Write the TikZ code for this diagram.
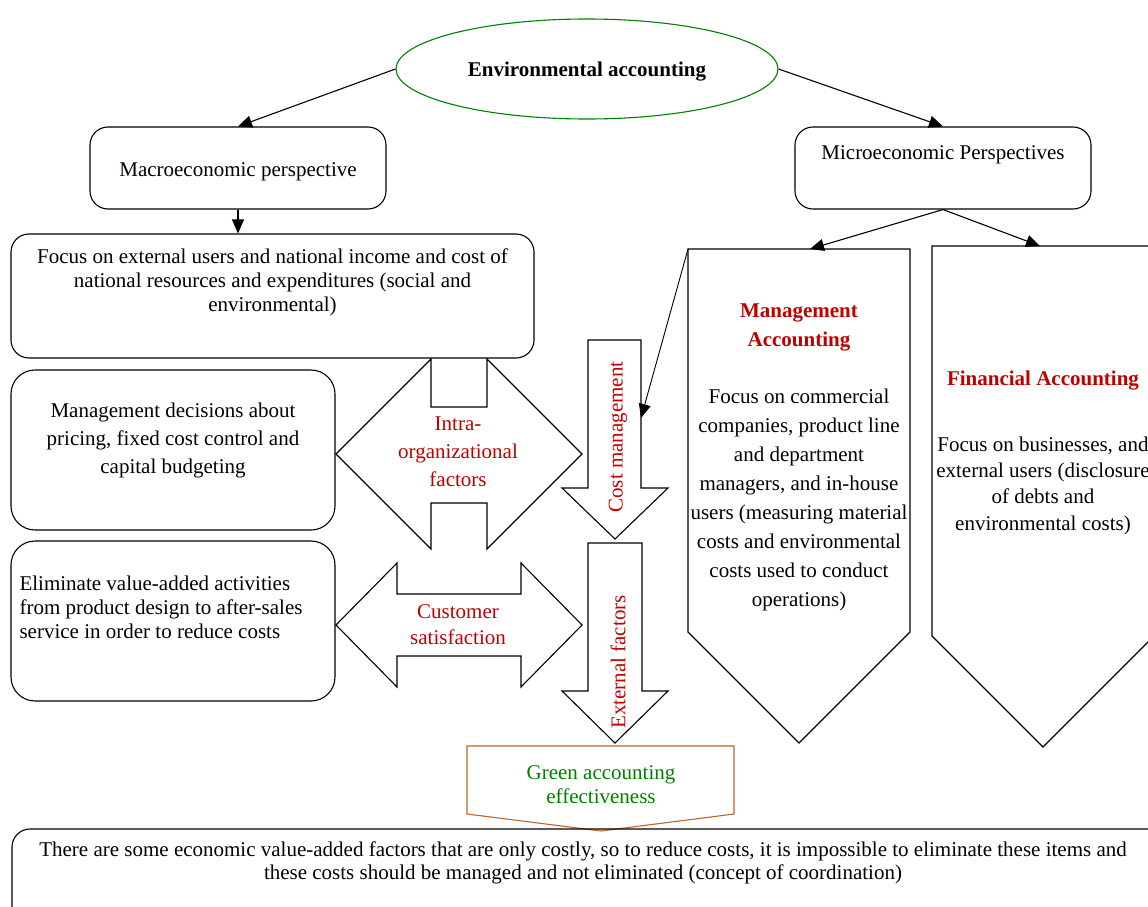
\documentclass[tikz,border=0pt]{standalone}
\usepackage{fontspec}
\setmainfont{Liberation Serif}
\usetikzlibrary{shapes.geometric,arrows.meta}
\definecolor{dred}{RGB}{192,0,0}
\definecolor{dgreen}{RGB}{0,128,0}
\definecolor{brownor}{RGB}{190,100,40}
\begin{document}
\begin{tikzpicture}[x=1pt,y=-1pt,
  line width=1.1pt,
  txt/.style={font=\fontsize{21}{24}\selectfont, align=center, inner sep=0pt},
  box/.style={draw, rounded corners=18pt, inner sep=0pt},
  shp/.style={draw, line join=miter},
  arr/.style={-{Triangle[length=14pt,width=12pt]}},
  redt/.style={text=dred},
]
\useasboundingbox (0,0) rectangle (1148,907);
\clip (0,0) rectangle (1148,907);

% top ellipse
\node[ellipse, draw=dgreen, minimum width=382pt, minimum height=100pt, inner sep=0pt] (env) at (587,69) {};
\node[txt, font=\fontsize{21}{24}\selectfont\bfseries] (envt) at (587,72) {Environmental accounting};

% perspectives
\node[box, minimum width=296pt, minimum height=82pt] (macro) at (238,168) {};
\node[txt] (macrot) at (238,172) {Macroeconomic perspective};
\node[box, minimum width=296pt, minimum height=82pt] (micro) at (943,168) {};
\node[txt] (microt) at (943,155) {Microeconomic Perspectives};

\draw[arr] (env.west) -- (macro.north);
\draw[arr] (env.east) -- (micro.north);

% left column boxes
\node[box, minimum width=523pt, minimum height=124pt] (focus) at (272.5,296) {};
\node[txt] (focust) at (272.5,282) {Focus on external users and national income and cost of\\national resources and expenditures (social and\\environmental)};
\draw[arr] (macro.south) -- (macro.south |- focus.north);

\node[box, rounded corners=24pt, minimum width=324pt, minimum height=160pt] (mgmt) at (173,450) {};
\node[txt, font=\fontsize{21}{28}\selectfont] (mgmtt) at (173,440) {Management decisions about\\pricing, fixed cost control and\\capital budgeting};

\node[box, rounded corners=24pt, minimum width=324pt, minimum height=160pt] (elim) at (173,621) {};
\node[txt, align=left, anchor=west] (elimt) at (19,607) {Eliminate value-added activities\\from product design to after-sales\\service in order to reduce costs};

% four-way arrow (intra-organizational)
\draw[shp, fill=white] (431,359) -- (336,454) -- (431,549) -- (431,503) -- (487,503) -- (487,549)
  -- (582,454) -- (487,359) -- (487,407) -- (431,407) -- cycle;
\node[txt, redt, font=\fontsize{21}{28}\selectfont] (intra) at (458,452) {Intra-\\organizational\\factors};

% customer satisfaction double arrow
\draw[shp, fill=white] (336,625) -- (397,563) -- (397,594) -- (521,594) -- (521,563) -- (582,625)
  -- (521,687) -- (521,656) -- (397,656) -- (397,687) -- cycle;
\node[txt, redt, font=\fontsize{21}{26}\selectfont] (cust) at (458,625) {Customer\\satisfaction};

% cost management arrow
\draw[shp, fill=white] (588,340) -- (641,340) -- (641,488) -- (668,488) -- (615,539) -- (562,488) -- (588,488) -- cycle;
\node[txt, redt, rotate=90] (costm) at (618,437) {Cost management};
\coordinate (cmr) at (641,418);

% external factors arrow
\draw[shp, fill=white] (588,543) -- (642,543) -- (642,691) -- (668,691) -- (615,743) -- (562,691) -- (588,691) -- cycle;
\node[txt, redt, rotate=90] (extf) at (618,662) {External factors};

% management accounting pentagon
\draw[shp] (688,249) coordinate (ma) -- (910,249) -- (910,632) -- (799,743) -- (688,632) -- cycle;
\coordinate (matop) at (810,249);
\node[txt, redt, font=\fontsize{21}{29}\selectfont\bfseries] (mat) at (799,327.5) {Management\\Accounting};
\node[txt, font=\fontsize{21}{29}\selectfont] (mab) at (799,499.5) {Focus on commercial\\companies, product line\\and department\\managers, and in-house\\users (measuring material\\costs and environmental\\costs used to conduct\\operations)};
\draw[arr, line width=0.9pt] (ma) -- (cmr);

% financial accounting pentagon
\draw[shp] (932,246) -- (1154,246) -- (1154,636) -- (1043,747) -- (932,636) -- cycle;
\coordinate (fatop) at (1040,246);
\node[txt, redt, font=\fontsize{21}{24}\selectfont\bfseries] (fat) at (1043,381) {Financial Accounting};
\node[txt, font=\fontsize{21}{26.3}\selectfont] (fab) at (1043,485.5) {Focus on businesses, and\\external users (disclosure\\of debts and\\environmental costs)};

\draw[arr] (micro.south) -- (matop);
\draw[arr] (micro.south) -- (fatop);

% green accounting effectiveness
\draw[shp, draw=brownor] (467,746) -- (734,746) -- (734,814) -- (601,831) -- (467,814) -- cycle;
\node[txt, text=dgreen] (green) at (601,785) {Green accounting\\effectiveness};

% bottom box
\draw[rounded corners=18pt] (12,960) -- (12,829) -- (1170,829) -- (1170,960);
\node[txt, font=\fontsize{21}{23}\selectfont] (bott) at (583,863) {There are some economic value-added factors that are only costly, so to reduce costs, it is impossible to eliminate these items and\\these costs should be managed and not eliminated (concept of coordination)};
\end{tikzpicture}
\end{document}
